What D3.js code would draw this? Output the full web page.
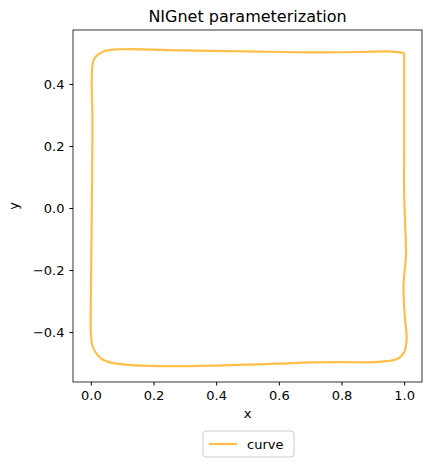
<!DOCTYPE html><html><head><meta charset="utf-8"><script src="https://cdn.jsdelivr.net/npm/d3@7"></script>
<style>body{margin:0;background:#fff}text{font-family:"DejaVu Sans",sans-serif}</style></head><body><svg id="c" width="433" height="467"></svg>
<script>
const xs=[1.0,1.0,1.0,1.0,1.003,1.006,0.998,1.002,1.008,1.0,0.975,0.9,0.8,0.7,0.6,0.5,0.4,0.25,0.12,0.04,0.007,0.0,0.0,0.002,0.004,0.005,0.003,0.01,0.04,0.1,0.3,0.5,0.7,0.85,0.95,1.0];
const ys=[0.50,0.35,0.2,0.05,-0.05,-0.15,-0.25,-0.35,-0.42,-0.465,-0.488,-0.497,-0.497,-0.498,-0.502,-0.505,-0.508,-0.51,-0.506,-0.49,-0.45,-0.4,-0.3,-0.1,0.1,0.3,0.42,0.48,0.505,0.512,0.508,0.505,0.502,0.503,0.505,0.50];
const xTicks=[0,0.2,0.4,0.6,0.8,1.0], yTicks=[-0.4,-0.2,0,0.2,0.4];
const svg=d3.select("#c");
const L=73,R=422,T=30,B=382;
const x=d3.scaleLinear().domain([-0.057,1.057]).range([L,R]);
const y=d3.scaleLinear().domain([-0.561,0.574]).range([B,T]);
const fmt=d3.format(".1f"), mf=v=>fmt(v).replace("-","\u2212");
svg.append("g").attr("transform",`translate(0,${B})`).call(d3.axisBottom(x).tickValues(xTicks).tickFormat(mf).tickSizeOuter(0).tickSize(3.5).tickPadding(5)).call(g=>{g.select(".domain").remove();g.selectAll("text").attr("font-size",13).attr("fill","#000").attr("font-family","DejaVu Sans")});
svg.append("g").attr("transform",`translate(${L},0)`).call(d3.axisLeft(y).tickValues(yTicks).tickFormat(mf).tickSizeOuter(0).tickSize(3.5).tickPadding(5)).call(g=>{g.select(".domain").remove();g.selectAll("text").attr("font-size",13).attr("fill","#000").attr("font-family","DejaVu Sans")});
svg.append("rect").attr("x",L).attr("y",T).attr("width",R-L).attr("height",B-T).attr("fill","none").attr("stroke","#000").attr("stroke-width",0.8);
const pts=xs.map((v,i)=>[v,ys[i]]);
svg.append("path").attr("d",d3.line().x(d=>x(d[0])).y(d=>y(d[1])).curve(d3.curveCatmullRom)(pts)).attr("fill","none").attr("stroke","#fdbf4a").attr("stroke-width",2.2);
svg.append("text").attr("x",(L+R)/2).attr("y",T-8).attr("text-anchor","middle").attr("font-size",16).text("NIGnet parameterization");
svg.append("text").attr("x",(L+R)/2).attr("y",B+36).attr("text-anchor","middle").attr("font-size",13).text("x");
svg.append("text").attr("transform",`translate(${L-55},${(T+B)/2}) rotate(-90)`).attr("text-anchor","middle").attr("font-size",13).text("y");
const lg=svg.append("g").attr("transform","translate(203,431)");
lg.append("rect").attr("width",91).attr("height",26).attr("rx",3).attr("fill","#fff").attr("stroke","#ccc");
lg.append("line").attr("x1",6).attr("x2",34).attr("y1",13).attr("y2",13).attr("stroke","#fdbf4a").attr("stroke-width",2.2);
lg.append("text").attr("x",44).attr("y",17.5).attr("font-size",13).text("curve");
</script></body></html>
